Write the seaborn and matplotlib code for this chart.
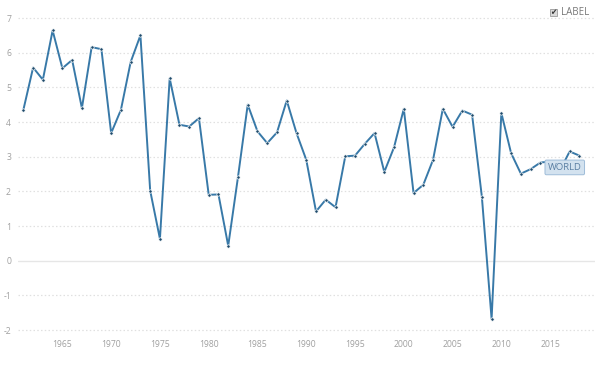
import matplotlib
matplotlib.use("Agg")
import matplotlib.pyplot as plt
import seaborn as sns
import pandas as pd
from matplotlib.patches import Rectangle

years = list(range(1961, 2019))
growth = [4.35, 5.57, 5.22, 6.64, 5.55, 5.79, 4.40, 6.16, 6.10, 3.68,
          4.35, 5.73, 6.50, 2.02, 0.63, 5.26, 3.92, 3.87, 4.11, 1.90,
          1.91, 0.43, 2.41, 4.50, 3.73, 3.39, 3.70, 4.62, 3.68, 2.91,
          1.42, 1.76, 1.54, 3.01, 3.03, 3.37, 3.68, 2.56, 3.27, 4.38,
          1.95, 2.19, 2.91, 4.38, 3.86, 4.33, 4.21, 1.85, -1.68, 4.26,
          3.10, 2.51, 2.64, 2.83, 2.86, 2.60, 3.15, 3.03]
y_ticks = [-2, -1, 0, 1, 2, 3, 4, 5, 6, 7]
x_ticks = [1965, 1970, 1975, 1980, 1985, 1990, 1995, 2000, 2005, 2010, 2015]
series_label = "WORLD"
legend_label = "LABEL"

df = pd.DataFrame({"year": years, "growth": growth})

sns.set_style("white")
plt.rcParams["font.family"] = ["Open Sans", "DejaVu Sans"]

fig = plt.figure(figsize=(6.0, 3.72), dpi=100)
ax = fig.add_axes([18/600, 1-330/372, (595-18)/600, (330-18)/372])

line_color = "#3879a8"
sns.lineplot(data=df, x="year", y="growth", ax=ax, color=line_color, linewidth=1.4,
             marker="o", markersize=2.4, markerfacecolor="#1d4a6b",
             markeredgecolor="white", markeredgewidth=0.5, zorder=3)

ax.set_xlim(1960.45, 2019.6)
ax.set_ylim(-2, 7)
ax.set_xticks(x_ticks)
ax.set_xticklabels([str(t) for t in x_ticks])
ax.set_yticks(y_ticks)
ax.set_yticklabels([str(t) for t in y_ticks])
ax.set_xlabel("")
ax.set_ylabel("")
for s in ax.spines.values():
    s.set_visible(False)

for t in y_ticks:
    if t == 0:
        ax.axhline(t, color="#e6e6e6", linewidth=1.0, zorder=1)
    else:
        ax.axhline(t, color="#e0e0e0", linewidth=0.9, linestyle=(0, (1.2, 1.8)), zorder=1, clip_on=False)

ax.tick_params(axis="y", length=0, labelsize=6.2, labelcolor="#a0a0a0", pad=5)
ax.tick_params(axis="x", length=3, width=0.7, color="#d0d0d0", labelsize=6.2,
               labelcolor="#a0a0a0", pad=4, direction="out")

# series label box
ax.text(2016.5, 2.69, series_label, fontsize=6.8, color="#5b7fa3", ha="center", va="center",
        zorder=5,
        bbox=dict(boxstyle="round,pad=0.3,rounding_size=0.15", facecolor="#d3e2ef",
                  edgecolor="#9ebcd8", linewidth=0.7))

# legend checkbox
fig.patches.append(Rectangle((549.5/600, 1-15.8/372), 7/600, 7/372, transform=fig.transFigure,
                             facecolor="#d9d9d9", edgecolor="#9a9a9a", linewidth=0.6))
fig.text(553/600, 1-12.3/372, "\u2714", fontsize=5.5, color="#333333", ha="center", va="center",
         family=["DejaVu Sans"])
fig.text(561.5/600, 1-12.5/372, legend_label, fontsize=7.0, color="#777777", ha="left", va="center")

fig.savefig("out.png", dpi=100, facecolor="white")
